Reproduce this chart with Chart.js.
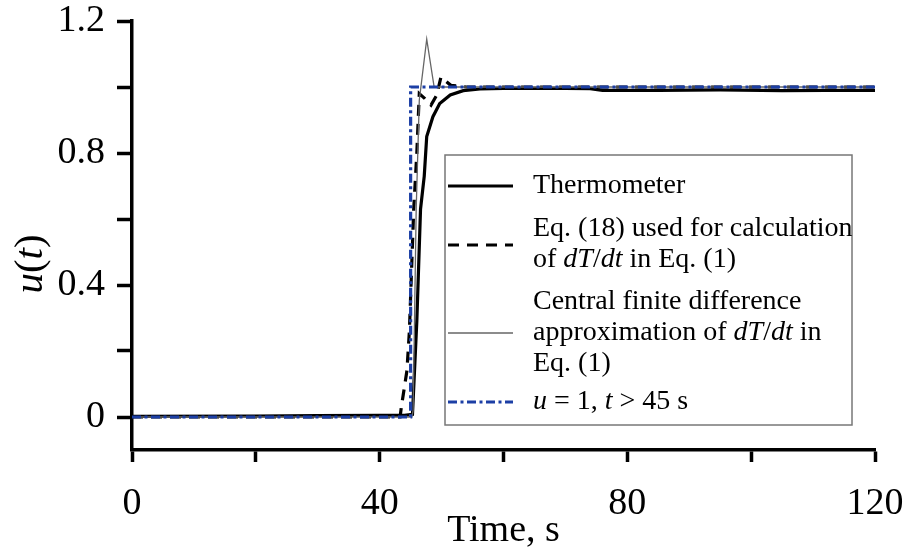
<!DOCTYPE html>
<html>
<head>
<meta charset="utf-8">
<script src="https://cdn.jsdelivr.net/npm/chart.js@4"></script>
<style>
  html, body { margin: 0; padding: 0; background: #fff; }
  #wrap { width: 909px; height: 554px; }
</style>
</head>
<body>
<div id="wrap"><canvas id="c" width="909" height="554"></canvas></div>
<script>
// ---- data ----
const thermoT = [0, 20, 30, 40, 44, 45.3, 46.0, 46.6, 47.2, 47.6, 48.6, 49.7, 51.4, 53.5, 56.2, 60, 70, 74, 76, 85, 95, 105, 112, 120];
const thermoU = [0.002, 0.003, 0.004, 0.005, 0.005, 0.008, 0.29, 0.63, 0.73, 0.85, 0.91, 0.95, 0.976, 0.989, 0.994, 0.996, 0.996, 0.995, 0.99, 0.99, 0.991, 0.989, 0.99, 0.99];

const eq18T = [0, 43.3, 43.5, 44.4, 44.8, 45.5, 46.0, 46.4, 47.3, 48.3, 49.2, 49.9, 51.5, 54, 60, 120];
const eq18U = [0, 0, 0.03, 0.14, 0.26, 0.63, 0.8, 0.98, 0.965, 0.945, 0.975, 1.03, 1.005, 1.0, 1.0, 1.0];

const cfdT = [0, 45.2, 45.4, 45.6, 45.9, 46.4, 47.6, 48.8, 52, 120];
const cfdU = [0, 0, 0.02, 0.26, 0.63, 0.96, 1.145, 1.0, 1.0, 1.0];

const stepT = [0, 45, 45, 120];
const stepU = [0, 0, 1, 1];

const xTicks = [0, 20, 40, 60, 80, 100, 120];
const xLabels = ['0', '', '40', '', '80', '', '120'];
const yTicks = [0, 0.2, 0.4, 0.6, 0.8, 1.0, 1.2];
const yLabels = ['0', '', '0.4', '', '0.8', '', '1.2'];

const legendLabels = [
  [[['Thermometer', false]]],
  [[['Eq. (18) used for calculation', false]], [['of ', false], ['dT', true], ['/', false], ['dt', true], [' in Eq. (1)', false]]],
  [[['Central finite difference', false]], [['approximation of ', false], ['dT', true], ['/', false], ['dt', true], [' in', false]], [['Eq. (1)', false]]],
  [[['u', true], [' = 1, ', false], ['t', true], [' > 45 s', false]]]
];

// ---- helpers ----
const zip = (xs, ys) => xs.map((x, i) => ({ x: x, y: ys[i] }));
const SERIF = '"Liberation Serif", "Times New Roman", serif';
const BLUE = '#1c3fa5';

const styles = [
  { color: '#000', width: 3.2, dash: [] },
  { color: '#000', width: 3.2, dash: [11, 8] },
  { color: '#666', width: 1.3, dash: [] },
  { color: BLUE, width: 3.2, dash: [9, 3.5, 3, 3.5] }
];

const customPlugin = {
  id: 'custom',
  afterDraw(chart) {
    const ctx = chart.ctx;
    ctx.save();
    // y axis title u(t)
    ctx.translate(31, 264);
    ctx.rotate(-Math.PI / 2);
    ctx.fillStyle = '#000';
    ctx.textBaseline = 'middle';
    const parts = [['u', true], ['(', false], ['t', true], [')', false]];
    let total = 0;
    parts.forEach(p => { ctx.font = (p[1] ? 'italic ' : '') + '41px ' + SERIF; total += ctx.measureText(p[0]).width; });
    let px = -total / 2;
    parts.forEach(p => {
      ctx.font = (p[1] ? 'italic ' : '') + '41px ' + SERIF;
      ctx.textAlign = 'left';
      ctx.fillText(p[0], px, 0);
      px += ctx.measureText(p[0]).width;
    });
    ctx.restore();

    // legend box
    ctx.save();
    ctx.fillStyle = '#fff';
    ctx.fillRect(445, 155, 407, 270);
    ctx.strokeStyle = '#777';
    ctx.lineWidth = 1.5;
    ctx.strokeRect(445, 155, 407, 270);
    const sampleY = [186, 245, 333, 402];
    const textY = [[186], [229, 260], [302, 333, 364], [402]];
    legendLabels.forEach((lines, i) => {
      const s = styles[i];
      ctx.beginPath();
      ctx.setLineDash(s.dash);
      ctx.strokeStyle = s.color;
      ctx.lineWidth = s.width;
      ctx.moveTo(448, sampleY[i]);
      ctx.lineTo(513, sampleY[i]);
      ctx.stroke();
      ctx.setLineDash([]);
      lines.forEach((runs, j) => {
        let x = 533;
        ctx.fillStyle = '#000';
        ctx.textBaseline = 'middle';
        ctx.textAlign = 'left';
        runs.forEach(r => {
          ctx.font = (r[1] ? 'italic ' : '') + '28px ' + SERIF;
          ctx.fillText(r[0], x, textY[i][j]);
          x += ctx.measureText(r[0]).width;
        });
      });
    });
    ctx.restore();
  }
};

const datasets = [
  { label: 'u = 1, t > 45 s', data: zip(stepT, stepU) },
  { label: 'Central finite difference', data: zip(cfdT, cfdU) },
  { label: 'Eq. (18)', data: zip(eq18T, eq18U) },
  { label: 'Thermometer', data: zip(thermoT, thermoU) }
].map((d, k) => {
  const s = styles[3 - k];
  return Object.assign(d, {
    borderColor: s.color, borderWidth: s.width, borderDash: s.dash,
    pointRadius: 0, tension: 0, fill: false
  });
});

new Chart(document.getElementById('c'), {
  type: 'line',
  data: { datasets: datasets },
  options: {
    responsive: false,
    animation: false,
    layout: { padding: { top: 21, right: 34, left: 0, bottom: 0 } },
    plugins: { legend: { display: false }, tooltip: { enabled: false } },
    scales: {
      x: {
        type: 'linear', min: 0, max: 120,
        afterBuildTicks: a => { a.ticks = xTicks.map(v => ({ value: v })); },
        afterFit: a => { a.height = 104; a.paddingLeft = 0; a.paddingRight = 0; },
        ticks: {
          autoSkip: false, maxRotation: 0, padding: 19, color: '#000',
          font: { family: SERIF, size: 38 },
          callback: (v) => { const i = xTicks.indexOf(v); return i >= 0 ? xLabels[i] : ''; }
        },
        grid: { drawOnChartArea: false, drawTicks: true, tickLength: 12, tickWidth: 3.5, tickColor: '#000' },
        border: { display: true, color: '#000', width: 3.5 },
        title: { display: true, text: 'Time, s', color: '#000', font: { family: SERIF, size: 38 }, padding: { top: -12, bottom: 0 } }
      },
      y: {
        type: 'linear', min: -0.1, max: 1.2,
        afterBuildTicks: a => { a.ticks = yTicks.map(v => ({ value: v })); },
        afterFit: a => { a.width = 132; a.paddingTop = 0; a.paddingBottom = 0; },
        ticks: {
          autoSkip: false, padding: 12, color: '#000',
          font: { family: SERIF, size: 38 },
          callback: (v) => { const i = yTicks.findIndex(t => Math.abs(t - v) < 1e-9); return i >= 0 ? yLabels[i] : ''; }
        },
        grid: { drawOnChartArea: false, drawTicks: true, tickLength: 15, tickWidth: 3.5, tickColor: '#000' },
        border: { display: true, color: '#000', width: 3.5 }
      }
    }
  },
  plugins: [customPlugin]
});
</script>
</body>
</html>
